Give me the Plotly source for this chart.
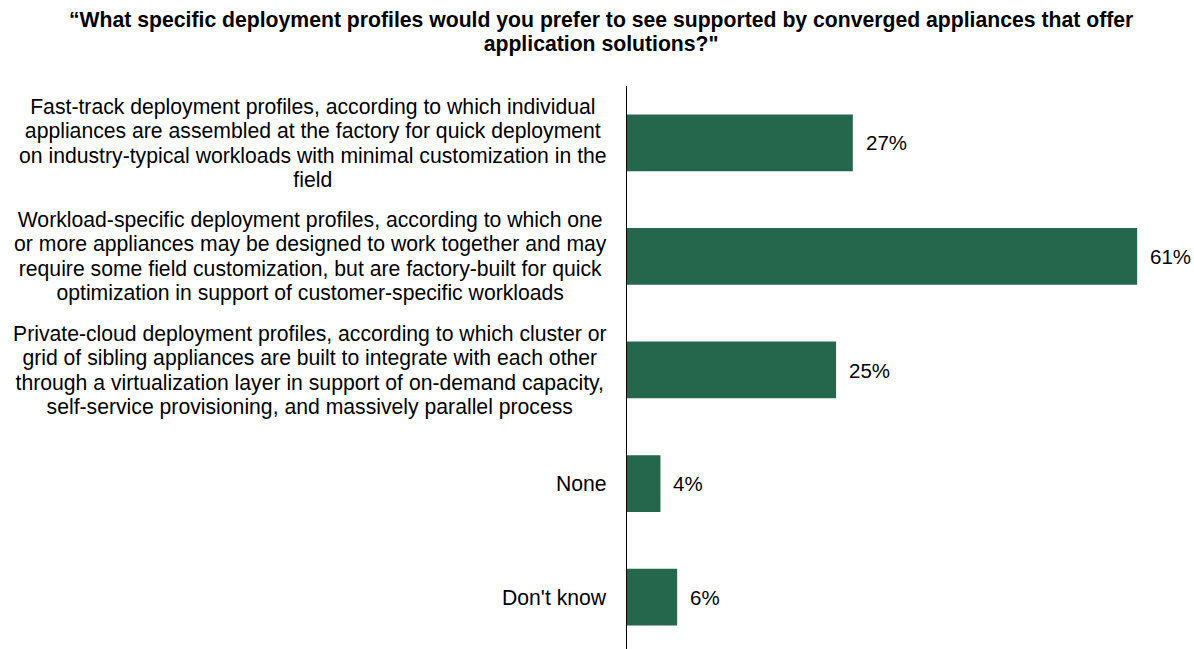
import plotly.graph_objects as go

# Survey answers and share of respondents (%)
categories = [
    "Fast-track deployment profiles, according to which individual<br>"
    "appliances are assembled at the factory for quick deployment<br>"
    "on industry-typical workloads with minimal customization in the<br>field",
    "Workload-specific deployment profiles, according to which one<br>"
    "or more appliances may be designed to work together and may<br>"
    "require some field customization, but are factory-built for quick<br>"
    "optimization in support of customer-specific workloads",
    "Private-cloud deployment profiles, according to which cluster or<br>"
    "grid of sibling appliances are built to integrate with each other<br>"
    "through a virtualization layer in support of on-demand capacity,<br>"
    "self-service provisioning, and massively parallel process",
    "None",
    "Don't know",
]
values = [27, 61, 25, 4, 6]
value_labels = ["27%", "61%", "25%", "4%", "6%"]

title_lines = [
    "\u201cWhat specific deployment profiles would you prefer to see supported by "
    "converged appliances that offer",
    "application solutions?\"",
]

BAR_COLOR = "#24674D"
FONT = "Liberation Sans, Arial, sans-serif"


def sized(text, px):
    """Wrap each line in a span so glyph size can differ from line pitch."""
    return "<br>".join(f"<span style='font-size:{px}px'>{ln}</span>" for ln in text.split("<br>"))


ypos = list(range(len(categories)))

fig = go.Figure(
    go.Bar(
        x=values,
        y=ypos,
        orientation="h",
        marker=dict(color=BAR_COLOR, line=dict(width=0)),
        width=0.5,
        hoverinfo="skip",
    )
)

annotations = []
# Category labels, centered multi-line text to the left of the axis
for yi, label in zip(ypos, categories):
    annotations.append(dict(
        x=0, y=yi, xref="x", yref="y",
        text=sized(label, 21.2), showarrow=False,
        xanchor="right", yanchor="middle", align="center",
        xshift=-18,
        font=dict(family=FONT, size=18.7, color="#000000"),
    ))
# Value labels just past each bar end
for yi, v, lab in zip(ypos, values, value_labels):
    annotations.append(dict(
        x=v, y=yi, xref="x", yref="y",
        text=lab, showarrow=False,
        xanchor="left", yanchor="middle",
        xshift=11,
        font=dict(family=FONT, size=20.5, color="#000000"),
    ))
# Title, centered on the page
title_text = sized("<br>".join(f"<b>{t}</b>" for t in title_lines), 21.2)
annotations.append(dict(
    x=(601 - 627) / 552, y=1.0, xref="paper", yref="paper",
    yshift=80,
    text=title_text, showarrow=False,
    xanchor="center", yanchor="top", align="center",
    font=dict(family=FONT, size=18.5, color="#000000"),
))

fig.update_layout(
    width=1194,
    height=649,
    margin=dict(l=627, r=15, t=86, b=0),
    paper_bgcolor="white",
    plot_bgcolor="white",
    showlegend=False,
    annotations=annotations,
    xaxis=dict(range=[0, 66], visible=False, fixedrange=True),
    yaxis=dict(
        range=[4.458, -0.502],
        showticklabels=False,
        showgrid=False,
        zeroline=False,
        showline=True,
        linecolor="#000000",
        linewidth=1,
        ticks="",
        fixedrange=True,
    ),
)

fig.write_html("out.html")
